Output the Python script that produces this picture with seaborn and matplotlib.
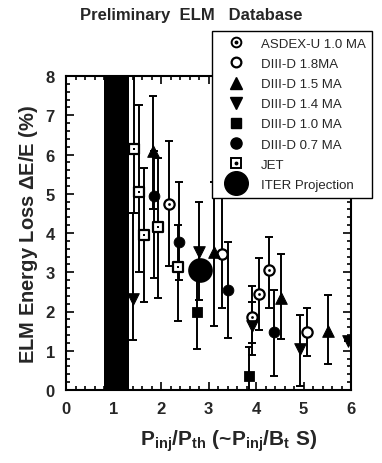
import matplotlib
matplotlib.use("Agg")
import matplotlib.pyplot as plt
import seaborn as sns
from matplotlib.lines import Line2D
from matplotlib.legend_handler import HandlerTuple
from matplotlib.ticker import MultipleLocator

# values: x, y, lower / upper end of error bar
asdex_x = [2.17, 3.92, 4.06, 4.27]
asdex_y = [4.74, 1.86, 2.45, 3.06]
asdex_lo = [3.15, 1.20, 1.53, 2.10]
asdex_hi = [6.34, 2.65, 3.36, 3.90]

d18_x = [3.28, 5.07]
d18_y = [3.46, 1.48]
d18_lo = [2.10, 0.87]
d18_hi = [5.00, 2.10]

d15_x = [1.83, 3.11, 4.53, 5.52]
d15_y = [6.09, 3.51, 2.34, 1.50]
d15_lo = [4.60, 1.63, 1.30, 0.66]
d15_hi = [7.49, 5.30, 3.47, 2.42]

d14_x = [1.41, 2.80, 3.92, 4.93, 5.94]
d14_y = [2.32, 3.52, 1.63, 1.04, 1.25]
d14_lo = [1.27, 2.30, 0.90, 0.10, 1.25]
d14_hi = [4.50, 4.80, 2.24, 1.91, 1.25]

d10_x = [2.76, 3.85]
d10_y = [1.98, 0.36]
d10_lo = [1.04, 0.00]
d10_hi = [3.00, 1.10]

d07_x = [1.85, 2.38, 3.41, 4.38]
d07_y = [4.94, 3.77, 2.56, 1.48]
d07_lo = [2.85, 2.80, 1.32, 0.36]
d07_hi = [6.10, 5.30, 3.77, 2.55]

jet_x = [1.43, 1.54, 1.64, 1.94, 2.36]
jet_y = [6.14, 5.04, 3.95, 4.15, 3.13]
jet_lo = [4.50, 3.00, 2.24, 2.35, 1.76]
jet_hi = [8.00, 7.25, 5.65, 5.90, 4.20]

iter_x = [2.82]
iter_y = [3.06]

band = (0.80, 1.32)

labels = ["ASDEX-U 1.0 MA", "DIII-D 1.8MA", "DIII-D 1.5 MA", "DIII-D 1.4 MA",
          "DIII-D 1.0 MA", "DIII-D 0.7 MA", "JET", "ITER Projection"]

sns.set_theme(style="ticks")
plt.rcParams["font.family"] = ["Liberation Sans Narrow", "Liberation Sans", "DejaVu Sans"]
plt.rcParams["mathtext.fontset"] = "custom"
plt.rcParams["mathtext.rm"] = "Liberation Sans:bold"

fig = plt.figure(figsize=(3.82, 4.64), dpi=100)
ax = fig.add_axes([66 / 382, 1 - 391 / 464, 285 / 382, 314 / 464])

ax.axvspan(band[0], band[1], color="black", zorder=1, lw=0)


def err(x, y, lo, hi):
    yerr = [[yy - l for yy, l in zip(y, lo)], [h - yy for yy, h in zip(y, hi)]]
    ax.errorbar(x, y, yerr=yerr, fmt="none", ecolor="black", elinewidth=1.4,
                capsize=3, capthick=1.4, zorder=2)


for s in [(asdex_x, asdex_y, asdex_lo, asdex_hi), (d18_x, d18_y, d18_lo, d18_hi),
          (d15_x, d15_y, d15_lo, d15_hi), (d14_x, d14_y, d14_lo, d14_hi),
          (d10_x, d10_y, d10_lo, d10_hi), (d07_x, d07_y, d07_lo, d07_hi),
          (jet_x, jet_y, jet_lo, jet_hi)]:
    err(*s)

kw = dict(ax=ax, legend=False, zorder=3)
sns.scatterplot(x=asdex_x, y=asdex_y, marker="o", s=55, color="white", edgecolor="black", linewidth=1.6, **kw)
sns.scatterplot(x=asdex_x, y=asdex_y, marker="o", s=4, color="black", edgecolor="black", linewidth=0, zorder=4, ax=ax, legend=False)
sns.scatterplot(x=d18_x, y=d18_y, marker="o", s=55, color="white", edgecolor="black", linewidth=1.6, **kw)
sns.scatterplot(x=d15_x, y=d15_y, marker="^", s=70, color="black", edgecolor="black", **kw)
sns.scatterplot(x=d14_x, y=d14_y, marker="v", s=70, color="black", edgecolor="black", **kw)
sns.scatterplot(x=d10_x, y=d10_y, marker="s", s=55, color="black", edgecolor="black", **kw)
sns.scatterplot(x=d07_x, y=d07_y, marker="o", s=60, color="black", edgecolor="black", **kw)
sns.scatterplot(x=jet_x, y=jet_y, marker="s", s=55, color="white", edgecolor="black", linewidth=1.6, **kw)
sns.scatterplot(x=jet_x, y=jet_y, marker="s", s=4, color="black", edgecolor="black", linewidth=0, zorder=4, ax=ax, legend=False)
sns.scatterplot(x=iter_x, y=iter_y, marker="o", s=270, color="black", edgecolor="black", **kw)

ax.set_xlim(0, 6)
ax.set_ylim(0, 8)
ax.xaxis.set_major_locator(MultipleLocator(1))
ax.yaxis.set_major_locator(MultipleLocator(1))
ax.xaxis.set_minor_locator(MultipleLocator(0.2))
ax.yaxis.set_minor_locator(MultipleLocator(0.2))
ax.tick_params(which="both", direction="in", top=True, right=True, color="black", width=1.2)
ax.tick_params(which="major", length=6, labelsize=12, pad=8)
ax.tick_params(which="minor", length=3)
for t in ax.get_xticklabels() + ax.get_yticklabels():
    t.set_fontweight("bold")
for sp in ax.spines.values():
    sp.set_visible(True)
    sp.set_color("black")
    sp.set_linewidth(1.5)

ax.set_ylabel("ELM Energy Loss $\\Delta$E/E (%)", fontsize=14.5, fontweight="bold", labelpad=4)
ax.set_xlabel("P$_{\\rm inj}$/P$_{\\rm th}$ (~P$_{\\rm inj}$/B$_{\\rm t}$ S)", fontsize=15,
              fontweight="bold", labelpad=8, x=0.57)
fig.text(0.5, 0.967, "Preliminary  ELM   Database", ha="center", va="center",
         fontsize=12, fontweight="bold")

open_c = Line2D([], [], marker="o", ls="none", mfc="white", mec="black", mew=1.4, ms=7)
dot = Line2D([], [], marker="o", ls="none", mfc="black", mec="black", ms=1.8)
open_s = Line2D([], [], marker="s", ls="none", mfc="white", mec="black", mew=1.4, ms=7)
handles = [
    (open_c, dot),
    Line2D([], [], marker="o", ls="none", mfc="white", mec="black", mew=1.6, ms=7),
    Line2D([], [], marker="^", ls="none", color="black", ms=8),
    Line2D([], [], marker="v", ls="none", color="black", ms=8),
    Line2D([], [], marker="s", ls="none", color="black", ms=7),
    Line2D([], [], marker="o", ls="none", color="black", ms=8),
    (open_s, dot),
    Line2D([], [], marker="o", ls="none", color="black", ms=17),
]
leg = ax.legend(handles, labels, loc="upper left", bbox_to_anchor=(212 / 382, 1 - 32 / 464),
                bbox_transform=fig.transFigure, frameon=True, fancybox=False, framealpha=1,
                edgecolor="black", labelspacing=0.6, handlelength=2.6,
                handletextpad=0.6, borderpad=0.5, borderaxespad=0,
                handler_map={tuple: HandlerTuple(ndivide=1, pad=0)},
                prop={"family": ["Liberation Sans", "DejaVu Sans"], "size": 9.5})
leg.get_frame().set_linewidth(1.0)
leg.set_zorder(10)

fig.savefig("out.png", dpi=100)
